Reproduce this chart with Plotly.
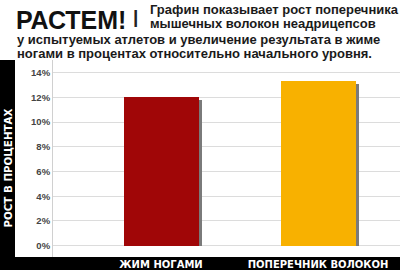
import plotly.graph_objects as go

categories = ["ЖИМ НОГАМИ", "ПОПЕРЕЧНИК ВОЛОКОН"]
values = [12.05, 13.3]
bar_colors = ["#a00607", "#f8b100"]
tick_vals = [0, 2, 4, 6, 8, 10, 12, 14]
tick_text = ["0%", "2%", "4%", "6%", "8%", "10%", "12%", "14%"]
y_title = "РОСТ В ПРОЦЕНТАХ"
headline = "РАСТЕМ!"
sub_lines = [
    "Графин показывает рост поперечника",
    "мышечных волокон неадрицепсов",
    "у испытуемых атлетов и увеличение результата в жиме",
    "ногами в процентах относительно начального уровня.",
]

W, H = 400, 270
L, R, T, B = 53, 0, 60, 13
PW, PH = W - L - R, H - T - B


def px(x):
    return (x - L) / PW


def py(y):
    return (H - B - y) / PH


bar_w = 0.478
shadow_drop = 0.25
fig = go.Figure()
# drop shadow
fig.add_trace(go.Bar(
    x=[0, 1], y=[v - shadow_drop for v in values], width=[bar_w, bar_w],
    offset=-bar_w / 2 + 0.024, marker=dict(color="#7a7a7a", line=dict(width=0)),
    hoverinfo="skip", showlegend=False,
))
fig.add_trace(go.Bar(
    x=[0, 1], y=values, width=[bar_w, bar_w], offset=-bar_w / 2,
    marker=dict(color=bar_colors, line=dict(width=0)), showlegend=False,
))

shapes = [
    dict(type="rect", xref="paper", yref="paper", x0=px(0), x1=px(W), y0=py(H), y1=py(60),
         fillcolor="black", line=dict(width=0), layer="below"),
    dict(type="rect", xref="paper", yref="paper", x0=px(15), x1=px(W), y0=py(257), y1=py(60),
         fillcolor="white", line=dict(width=0), layer="below"),
]

ann = []
ann.append(dict(text="<b>" + headline + "</b>", x=px(14), y=py(19.5), xref="paper", yref="paper",
                xanchor="left", yanchor="middle", showarrow=False,
                font=dict(family="Liberation Sans", size=25, color="#111")))
ann.append(dict(text="<b>|</b>", x=px(135), y=py(16), xref="paper", yref="paper",
                xanchor="center", yanchor="middle", showarrow=False,
                font=dict(family="Liberation Sans", size=19, color="#222")))
line_pos = [(148, 10), (148, 24), (15, 39.5), (15, 53.5)]
for t, (lx, ly) in zip(sub_lines, line_pos):
    ann.append(dict(text="<b>" + t + "</b>", x=px(lx), y=py(ly), xref="paper", yref="paper",
                    xanchor="left", yanchor="middle", showarrow=False,
                    font=dict(family="Liberation Sans", size=13, color="#1a1a1a")))
ann.append(dict(text="<b>" + y_title + "</b>", x=px(7.5), y=py(168), xref="paper", yref="paper",
                xanchor="center", yanchor="middle", showarrow=False, textangle=-90,
                font=dict(family="DejaVu Sans", size=10.3, color="white")))

fig.update_layout(
    width=W, height=H,
    margin=dict(l=L, r=R, t=T, b=B, pad=0),
    paper_bgcolor="white", plot_bgcolor="rgba(0,0,0,0)",
    barmode="overlay", bargap=0,
    shapes=shapes, annotations=ann, showlegend=False,
)
fig.update_xaxes(
    type="linear", range=[-0.688, 1.522], tickvals=[0, 1], ticktext=["<b>" + c + "</b>" for c in categories],
    showgrid=False, zeroline=False, showline=False, ticks="",
    tickfont=dict(family="DejaVu Sans", size=10, color="white"), fixedrange=True,
)
fig.update_yaxes(
    range=[-(257 - 245.7) / 12.36, 14 + (72.7 - 60) / 12.36],
    tickvals=tick_vals, ticktext=["<b>" + t + "</b>" for t in tick_text],
    showgrid=True, gridcolor="#dcdcdc", gridwidth=1, zeroline=False,
    showline=True, linecolor="#d0d0d0", linewidth=1, ticks="",
    tickfont=dict(family="Liberation Sans", size=9.5, color="#444"), fixedrange=True,
)

fig.write_html("out.html")
